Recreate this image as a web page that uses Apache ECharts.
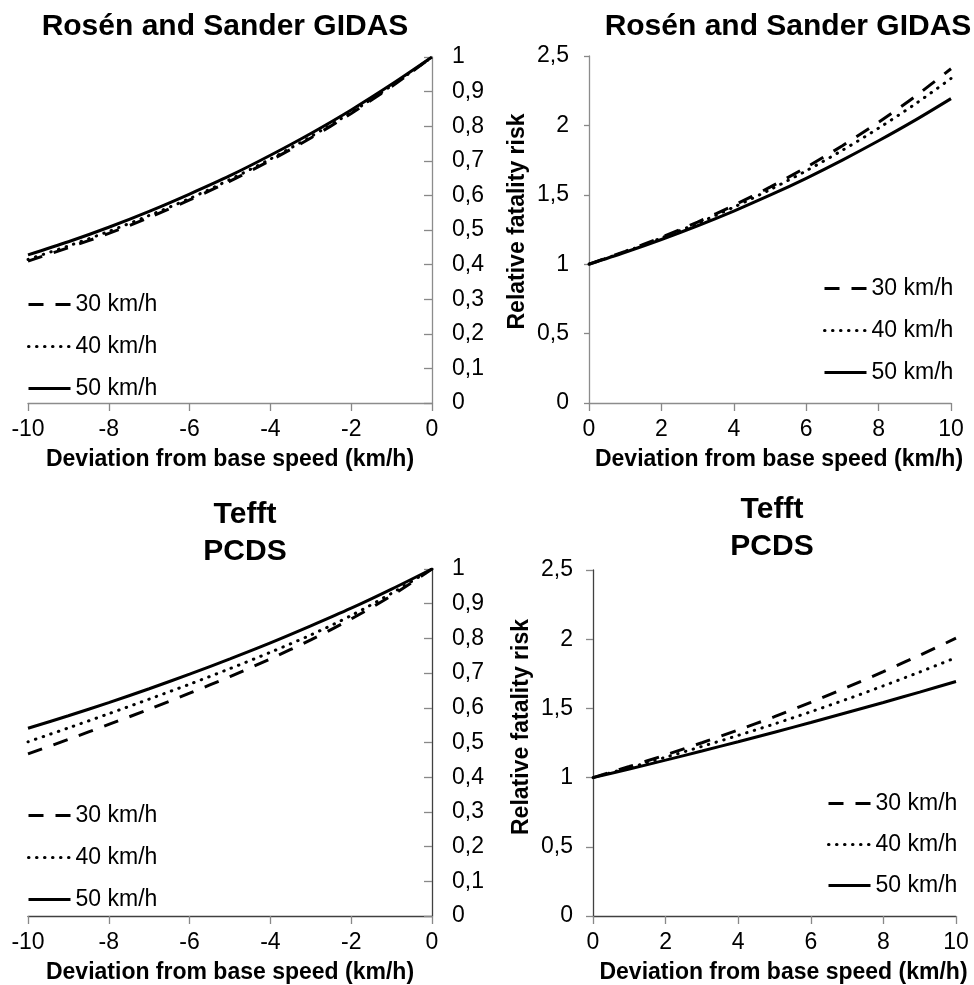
<!DOCTYPE html>
<html>
<head>
<meta charset="utf-8">
<title>Relative fatality risk by speed deviation</title>
<script src="https://cdn.jsdelivr.net/npm/echarts@6/dist/echarts.min.js"></script>
<style>
  html, body { margin: 0; padding: 0; background: #fff; }
  #chart { width: 974px; height: 985px; }
</style>
</head>
<body>
<div id="chart"></div>
<script>
// Speed deviation steps (km/h)
const devDown = [-10, -9, -8, -7, -6, -5, -4, -3, -2, -1, 0];
const devUp = [0, 1, 2, 3, 4, 5, 6, 7, 8, 9, 10];

// Rosén and Sander (GIDAS): relative fatality risk, speed reduction
const gidasDown30 = [0.410, 0.449, 0.490, 0.536, 0.587, 0.641, 0.701, 0.766, 0.837, 0.915, 1.000];
const gidasDown40 = [0.415, 0.454, 0.496, 0.542, 0.591, 0.646, 0.705, 0.770, 0.840, 0.917, 1.000];
const gidasDown50 = [0.428, 0.466, 0.508, 0.554, 0.604, 0.657, 0.716, 0.779, 0.847, 0.921, 1.000];
// Rosén and Sander (GIDAS): relative fatality risk, speed increase
const gidasUp30 = [1.000, 1.093, 1.194, 1.304, 1.424, 1.555, 1.698, 1.854, 2.023, 2.207, 2.408];
const gidasUp40 = [1.000, 1.090, 1.189, 1.295, 1.411, 1.537, 1.673, 1.821, 1.980, 2.152, 2.338];
const gidasUp50 = [1.000, 1.086, 1.178, 1.277, 1.383, 1.497, 1.619, 1.750, 1.889, 2.036, 2.193];

// Tefft (PCDS): relative fatality risk, speed reduction
const tefftDown30 = [0.467, 0.509, 0.552, 0.596, 0.642, 0.690, 0.741, 0.796, 0.856, 0.923, 1.000];
const tefftDown40 = [0.502, 0.542, 0.583, 0.625, 0.668, 0.713, 0.760, 0.810, 0.866, 0.930, 1.000];
const tefftDown50 = [0.541, 0.577, 0.615, 0.655, 0.697, 0.741, 0.787, 0.836, 0.887, 0.942, 1.000];
// Tefft (PCDS): relative fatality risk, speed increase
const tefftUp30 = [1.000, 1.080, 1.164, 1.252, 1.344, 1.440, 1.544, 1.653, 1.766, 1.884, 2.007];
const tefftUp40 = [1.000, 1.072, 1.147, 1.225, 1.305, 1.388, 1.476, 1.567, 1.663, 1.763, 1.867];
const tefftUp50 = [1.000, 1.062, 1.126, 1.192, 1.259, 1.328, 1.398, 1.470, 1.543, 1.618, 1.694];

// Labels
const seriesNames = ['30 km/h', '40 km/h', '50 km/h'];
const titleGidas = 'Rosén and Sander GIDAS';
const titleTefft = 'Tefft\nPCDS';
const xAxisTitle = 'Deviation from base speed (km/h)';
const yAxisTitle = 'Relative fatality risk';
const tickDown = ['-10', '-8', '-6', '-4', '-2', '0'];
const tickUp = ['0', '2', '4', '6', '8', '10'];
const tickFraction = ['0', '0,1', '0,2', '0,3', '0,4', '0,5', '0,6', '0,7', '0,8', '0,9', '1'];
const tickRisk = ['0', '0,5', '1', '1,5', '2', '2,5'];

const FONT = '"Liberation Sans", Arial, Helvetica, sans-serif';
const TICK_SIZE = 23;
const NAME_SIZE = 23;

const lineStyles = [
  { type: [15, 12], width: 3, color: '#000', cap: 'butt' },
  { type: [0.5, 7.5], width: 3, color: '#000', cap: 'round' },
  { type: 'solid', width: 3, color: '#000' }
];

function zip(xs, ys) { return xs.map((x, i) => [x, ys[i]]); }

function labelFrom(arr, min, step) {
  return v => arr[Math.round((v - min) / step)];
}

const grids = [
  { left: 28, top: 57, width: 404, height: 346 },
  { left: 589, top: 56, width: 362, height: 347 },
  { left: 28, top: 569, width: 404, height: 347 },
  { left: 593, top: 570, width: 363, height: 347 }
];

function xAxisFor(gi, down, lineColor, namePad) {
  return {
    gridIndex: gi, type: 'value',
    min: down ? -10 : 0, max: down ? 0 : 10, interval: 2,
    name: xAxisTitle, nameLocation: 'middle', nameGap: 45,
    nameTextStyle: { fontFamily: FONT, fontSize: NAME_SIZE, fontWeight: 'bold', color: '#000', padding: namePad },
    axisLine: { onZero: false, lineStyle: { color: lineColor, width: 1.3 } },
    axisTick: { length: 8, lineStyle: { color: '#888', width: 1.3 } },
    axisLabel: { margin: 15, fontFamily: FONT, fontSize: TICK_SIZE, color: '#000',
      formatter: labelFrom(down ? tickDown : tickUp, down ? -10 : 0, 2) },
    splitLine: { show: false }
  };
}

function yAxisFraction(gi, lineColor) {
  return {
    gridIndex: gi, type: 'value', position: 'right', min: 0, max: 1, interval: 0.1,
    axisLine: { show: true, onZero: false, lineStyle: { color: lineColor, width: 1.3 } },
    axisTick: { show: true, inside: true, length: 8, lineStyle: { color: '#888', width: 1.3 } },
    axisLabel: { margin: 20, align: 'left', fontFamily: FONT, fontSize: TICK_SIZE, color: '#000',
      formatter: labelFrom(tickFraction, 0, 0.1) },
    splitLine: { show: false }
  };
}

function yAxisRisk(gi, lineColor, tickLen, namePad) {
  return {
    gridIndex: gi, type: 'value', position: 'left', min: 0, max: 2.5, interval: 0.5,
    name: yAxisTitle, nameLocation: 'middle', nameGap: 60, nameRotate: 90,
    nameTextStyle: { fontFamily: FONT, fontSize: NAME_SIZE, fontWeight: 'bold', color: '#000', padding: namePad },
    axisLine: { show: true, onZero: false, lineStyle: { color: lineColor, width: 1.3 } },
    axisTick: { show: true, length: tickLen, lineStyle: { color: '#888', width: 1.3 } },
    axisLabel: { margin: 20, fontFamily: FONT, fontSize: TICK_SIZE, color: '#000',
      formatter: labelFrom(tickRisk, 0, 0.5) },
    splitLine: { show: false }
  };
}

const panelData = [
  { xs: devDown, ys: [gidasDown30, gidasDown40, gidasDown50] },
  { xs: devUp, ys: [gidasUp30, gidasUp40, gidasUp50] },
  { xs: devDown, ys: [tefftDown30, tefftDown40, tefftDown50] },
  { xs: devUp, ys: [tefftUp30, tefftUp40, tefftUp50] }
];

const series = [];
panelData.forEach((p, gi) => {
  p.ys.forEach((ys, si) => {
    series.push({
      type: 'line', name: seriesNames[si], xAxisIndex: gi, yAxisIndex: gi,
      data: zip(p.xs, ys), smooth: 0.3, symbol: 'none', showSymbol: false,
      lineStyle: lineStyles[si], itemStyle: { color: '#000' },
      silent: true, animation: false, z: 2 + si
    });
  });
});

// Legend keys show only the line pattern, no marker
function legendAt(left, top, gap) {
  return {
    data: seriesNames, orient: 'vertical', left: left, top: top, padding: 0,
    itemWidth: 42, itemHeight: 12, itemGap: gap, selectedMode: false,
    itemStyle: { opacity: 0 },
    lineStyle: { width: 3 },
    textStyle: { fontFamily: FONT, fontSize: NAME_SIZE, color: '#000' }
  };
}

const titleStyle = (size, lh) => ({ fontFamily: FONT, fontSize: size, fontWeight: 'bold', color: '#000', lineHeight: lh });

const option = {
  backgroundColor: '#fff',
  animation: false,
  title: [
    { text: titleGidas, left: 220, top: 5, textAlign: 'center', textStyle: titleStyle(30, 34) },
    { text: titleGidas, left: 783, top: 5, textAlign: 'center', textStyle: titleStyle(30, 34) },
    { text: titleTefft, left: 240, top: 491, textAlign: 'center', textStyle: titleStyle(30, 37) },
    { text: titleTefft, left: 767, top: 486, textAlign: 'center', textStyle: titleStyle(30, 37) }
  ],
  grid: grids,
  xAxis: [
    xAxisFor(0, true, '#8c8c8c', [0, 0, 0, 0]),
    xAxisFor(1, false, '#8c8c8c', [0, 0, 0, 18]),
    xAxisFor(2, true, '#404040', [0, 0, 0, 0]),
    xAxisFor(3, false, '#404040', [0, 0, 0, 18])
  ],
  yAxis: [
    yAxisFraction(0, '#8c8c8c'),
    yAxisRisk(1, '#8c8c8c', 5, [0, 0, 0, 16]),
    yAxisFraction(2, '#404040'),
    yAxisRisk(3, '#404040', 7, [0, 0, 0, 32])
  ],
  legend: [
    legendAt(27, 293, 19),
    legendAt(823, 277, 19),
    legendAt(27, 804, 19),
    legendAt(827, 792, 18)
  ],
  series: series
};

const chart = echarts.init(document.getElementById('chart'), null, { renderer: 'canvas' });
chart.setOption(option);
</script>
</body>
</html>
